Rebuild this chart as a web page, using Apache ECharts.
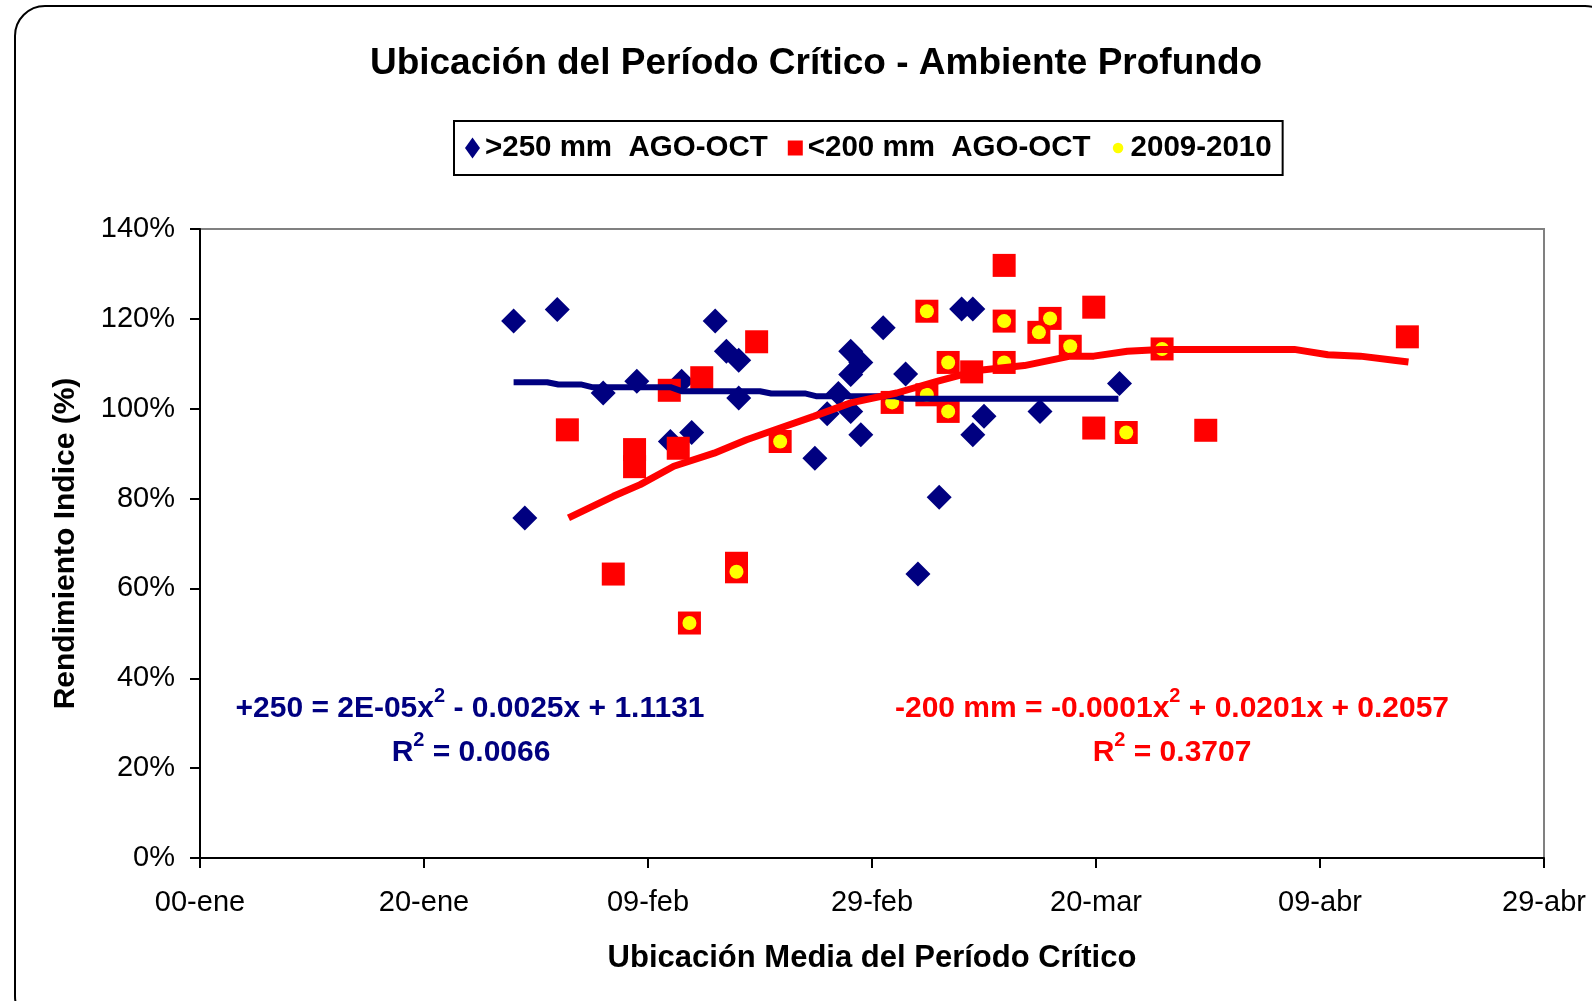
<!DOCTYPE html>
<html style="height: 100%">

<head>
  <meta charset="utf-8">
</head>

<body style="height: 100%; margin: 0; background: #fff">
  <div id="container" style="height: 100%"></div>
  <script type="text/javascript" src="https://cdn.jsdelivr.net/npm/echarts@6/dist/echarts.min.js"></script>
  <script type="text/javascript">
    // x = days counted from 00-ene, y = rendimiento indice in %
    var xTickLabels = ['00-ene', '20-ene', '09-feb', '29-feb', '20-mar', '09-abr', '29-abr'];

    var mas250 = [
      [28, 119.5], [29, 75.7], [31.9, 122.1], [36, 103.5], [39, 106.1], [42, 92.7], [43, 106.1],
      [43.9, 94.7], [46, 119.5], [47, 112.8], [48.1, 110.8], [48.1, 102.4], [54.9, 89.0], [56, 98.9],
      [57, 103.4], [58.1, 112.8], [58.1, 107.6], [58.1, 99.4], [59, 110.3], [59, 94.2], [61, 118.0],
      [63, 107.7], [64.1, 63.2], [66, 80.3], [68, 122.2], [69, 122.2], [69, 94.2], [70, 98.3],
      [75, 99.4], [82.1, 105.6]
    ];

    var menos200 = [
      [32.8, 95.3], [36.9, 63.2], [38.8, 90.9], [38.8, 87.1], [41.9, 104.1], [42.7, 91.2], [43.7, 52.3],
      [44.8, 106.9], [47.9, 65.6], [47.9, 63.7], [49.7, 114.9], [51.8, 92.7], [61.8, 101.4], [64.9, 121.7],
      [64.9, 103.1], [66.8, 110.3], [66.8, 99.4], [68.9, 108.2], [71.8, 131.9], [71.8, 119.5], [71.8, 110.3],
      [74.9, 117.0], [75.9, 120.1], [77.7, 113.9], [79.8, 122.6], [79.8, 95.7], [82.7, 94.7], [85.9, 113.3],
      [89.8, 95.2], [107.8, 116.0]
    ];

    var campania0910 = [
      [43.7, 52.3], [47.9, 63.7], [51.8, 92.7], [61.8, 101.4], [64.9, 103.1], [64.9, 121.7], [66.8, 110.3],
      [66.8, 99.4], [71.8, 119.5], [71.8, 110.3], [74.9, 117.0], [75.9, 120.1], [77.7, 113.9], [82.7, 94.7],
      [85.9, 113.3]
    ];

    // trend lines as they appear in the picture
    var tendencia250 = [
      [28, 105.9], [31, 105.9], [32, 105.4], [34, 105.4], [35, 104.8], [42, 104.8], [43, 103.9],
      [50, 103.9], [51, 103.4], [54, 103.4], [55, 102.8], [62, 102.8], [63, 102.2], [82, 102.2]
    ];

    var tendencia200 = [
      [32.9, 75.7], [36.9, 80.5], [39.3, 83.1], [42.3, 87.2], [45.9, 90.1], [48.8, 93.1], [51.8, 95.7],
      [54.8, 98.3], [58.1, 101.3], [62.2, 103.5], [65.8, 106.1], [69.4, 108.5], [73.6, 109.6],
      [77.7, 111.7], [79.8, 111.7], [82.8, 112.8], [85.8, 113.2], [97.7, 113.2], [100.7, 112.0],
      [103.6, 111.7], [106.6, 110.8], [107.9, 110.4]
    ];

    var FONT = "'Liberation Sans', Arial, sans-serif";

    function ecuacion(x, y, texto, color) {
      return {
        type: 'text', x: x, y: y,
        style: {
          text: texto,
          align: 'center', verticalAlign: 'middle',
          rich: {
            a: { fontFamily: FONT, fontSize: 30, fontWeight: 'bold', fill: color, color: color, padding: [7, 0, 0, 0] },
            s: { fontFamily: FONT, fontSize: 20, fontWeight: 'bold', fill: color, color: color, verticalAlign: 'top' }
          }
        }
      };
    }

    var dom = document.getElementById("container");
    var myChart = echarts.init(dom);

    var option = {
      backgroundColor: '#fff',
      animation: false,
      textStyle: { fontFamily: FONT, color: '#000' },
      title: {
        text: 'Ubicación del Período Crítico - Ambiente Profundo',
        left: 816,
        textAlign: 'center',
        top: 45,
        padding: 0,
        textStyle: { fontFamily: FONT, fontSize: 37, fontWeight: 'bold', color: '#000' }
      },
      legend: {
        left: 454,
        top: 121,
        padding: [12, 11],
        itemGap: 20,
        itemWidth: 15,
        itemHeight: 21,
        borderColor: '#000',
        borderWidth: 2,
        textStyle: { fontFamily: FONT, fontSize: 29.5, fontWeight: 'bold', color: '#000' },
        data: [
          { name: '>250 mm  AGO-OCT', icon: 'diamond' },
          { name: '<200 mm  AGO-OCT', icon: 'path://M0,0h10v10h-10z' },
          { name: '2009-2010', icon: 'path://M0,0M20,20M10,3a7,7 0 1,1 0,14a7,7 0 1,1 0,-14z' }
        ]
      },
      grid: {
        left: 200,
        top: 229,
        right: 48,
        bottom: 143,
        show: true,
        borderColor: '#808080',
        borderWidth: 2,
        backgroundColor: 'transparent'
      },
      xAxis: {
        type: 'value',
        min: 0,
        max: 120,
        interval: 20,
        name: 'Ubicación Media del Período Crítico',
        nameLocation: 'middle',
        nameGap: 85,
        nameTextStyle: { fontFamily: FONT, fontSize: 31, fontWeight: 'bold', color: '#000' },
        axisLine: { show: true, onZero: false, lineStyle: { color: '#000', width: 2 } },
        axisTick: { show: true, length: 10, lineStyle: { color: '#000', width: 2 } },
        axisLabel: {
          fontFamily: FONT, fontSize: 29, color: '#000', margin: 30,
          formatter: function (v) { return xTickLabels[Math.round(v / 20)]; }
        },
        splitLine: { show: false }
      },
      yAxis: {
        type: 'value',
        min: 0,
        max: 140,
        interval: 20,
        name: 'Rendimiento Indice (%)',
        nameLocation: 'middle',
        nameGap: 119,
        nameTextStyle: { fontFamily: FONT, fontSize: 30, fontWeight: 'bold', color: '#000' },
        axisLine: { show: true, onZero: false, lineStyle: { color: '#000', width: 2 } },
        axisTick: { show: true, length: 10, lineStyle: { color: '#000', width: 2 } },
        axisLabel: { fontFamily: FONT, fontSize: 29, color: '#000', margin: 25, formatter: '{value}%' },
        splitLine: { show: false }
      },
      graphic: [
        {
          type: 'rect',
          shape: { x: 15, y: 6, width: 1600, height: 1020, r: 30 },
          style: { fill: 'none', stroke: '#000', lineWidth: 2 },
          silent: true
        },
        ecuacion(470, 705, '{a|+250 = 2E-05x}{s|2}{a| - 0.0025x + 1.1131}', '#000080'),
        ecuacion(471, 749, '{a|R}{s|2}{a| = 0.0066}', '#000080'),
        ecuacion(1172, 705, '{a|-200 mm = -0.0001x}{s|2}{a| + 0.0201x + 0.2057}', '#FF0000'),
        ecuacion(1172, 749, '{a|R}{s|2}{a| = 0.3707}', '#FF0000')
      ],
      series: [
        {
          name: '>250 mm  AGO-OCT',
          type: 'scatter',
          symbol: 'diamond',
          symbolSize: 25,
          itemStyle: { color: '#000080', opacity: 1 },
          data: mas250,
          z: 2
        },
        {
          name: '<200 mm  AGO-OCT',
          type: 'scatter',
          symbol: 'rect',
          symbolSize: 23,
          itemStyle: { color: '#FF0000', opacity: 1 },
          data: menos200,
          z: 3
        },
        {
          name: '2009-2010',
          type: 'scatter',
          symbol: 'circle',
          symbolSize: 14,
          itemStyle: { color: '#FFFF00', opacity: 1 },
          data: campania0910,
          z: 4
        },
        {
          name: 'tendencia +250',
          type: 'line',
          showSymbol: false,
          silent: true,
          lineStyle: { color: '#000080', width: 6 },
          itemStyle: { color: '#000080' },
          data: tendencia250,
          z: 5
        },
        {
          name: 'tendencia -200',
          type: 'line',
          showSymbol: false,
          silent: true,
          lineStyle: { color: '#FF0000', width: 7 },
          itemStyle: { color: '#FF0000' },
          data: tendencia200,
          z: 6
        }
      ]
    };

    myChart.setOption(option);
  </script>
</body>

</html>
